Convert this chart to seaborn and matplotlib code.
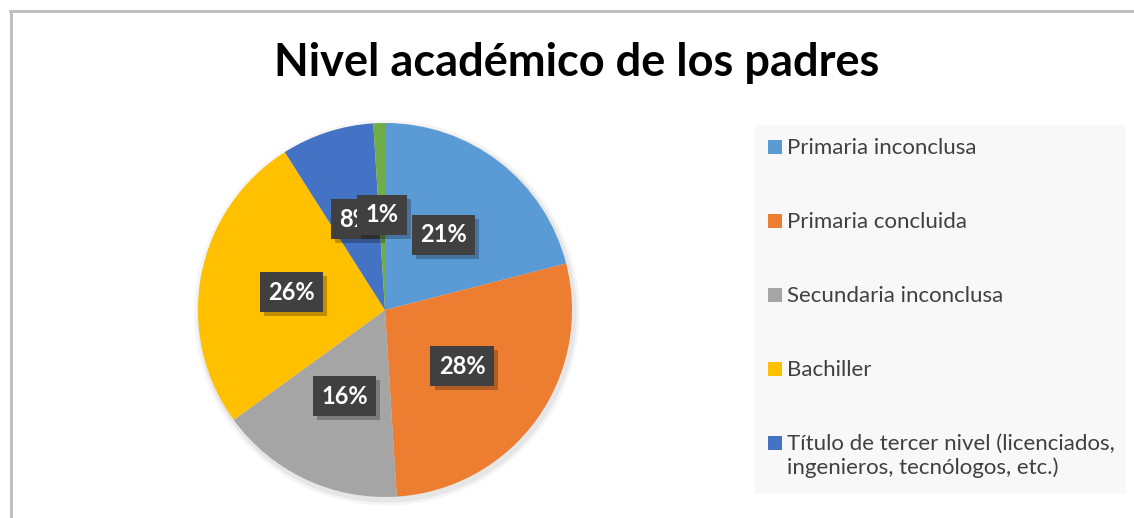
import matplotlib
matplotlib.use('Agg')
import matplotlib.pyplot as plt
import matplotlib.patheffects as pe
from matplotlib.patches import Rectangle, Circle
from matplotlib.lines import Line2D
import seaborn as sns

# data
categories = [
    "Primaria inconclusa",
    "Primaria concluida",
    "Secundaria inconclusa",
    "Bachiller",
    "Título de tercer nivel (licenciados,\ningenieros, tecnólogos, etc.)",
    "Otro",
]
shares = [21, 28, 16, 26, 8, 1]
legend_count = 5  # the last entry is cut off in the original
colors = ["#5B9BD5", "#ED7D31", "#A5A5A5", "#FFC000", "#4472C4", "#70AD47"]
title = "Nivel académico de los padres"

sns.set_theme(style="white")
plt.rcParams['font.family'] = ['Lato', 'DejaVu Sans']

W, H = 1134, 518
fig = plt.figure(figsize=(W / 100, H / 100), dpi=100)
fig.patch.set_facecolor("white")

def fx(px):
    return px / W

def fy(py):
    return 1 - py / H

# outer chart frame (only top and left edges are visible)
fig.lines.append(Line2D([fx(11), fx(11)], [fy(11), fy(530)], transform=fig.transFigure,
                        color="#BFBFBF", linewidth=2.2))
fig.lines.append(Line2D([fx(10), fx(1140)], [fy(11), fy(11)], transform=fig.transFigure,
                        color="#BFBFBF", linewidth=2.2))

# pie
cx, cy, r = 385, 310, 187
pad = 1.05
ax = fig.add_axes([fx(cx - r * pad), fy(cy + r * pad), 2 * r * pad / W, 2 * r * pad / H])
# soft shadow behind the pie
for k, a in [(1.03, 0.04), (1.015, 0.06)]:
    ax.add_patch(Circle((0.01, -0.015), k, facecolor="black", alpha=a,
                        edgecolor="none", zorder=0))
wedges, _, autotexts = ax.pie(
    shares, colors=colors, startangle=90, counterclock=False,
    autopct='%1.0f%%', pctdistance=0.51, radius=1,
    wedgeprops=dict(linewidth=0),
    textprops=dict(color="white", fontsize=17, fontweight="bold"),
)
for t in autotexts:
    t.set_bbox(dict(boxstyle="square,pad=0.36", facecolor="#404040", edgecolor="none"))
    t.get_bbox_patch().set_path_effects([
        pe.SimplePatchShadow(offset=(3, -3), shadow_rgbFace="black", alpha=0.25),
        pe.Normal()])
ax.set_xlim(-pad, pad)
ax.set_ylim(-pad, pad)
ax.set_aspect('equal')
ax.axis('off')

fig.text(fx(577), fy(63), title, ha="center", va="center",
         fontsize=32.5, fontweight="bold", color="black")

# legend
fig.patches.append(Rectangle((fx(755), fy(494)), fx(1126 - 755), (494 - 125) / H,
                             transform=fig.transFigure, facecolor="#F8F8F8",
                             edgecolor="none", zorder=0))
for i, (lab, col) in enumerate(zip(categories[:legend_count], colors[:legend_count])):
    yc = 147 + 74 * i
    fig.patches.append(Rectangle((fx(768), fy(yc + 7)), fx(14), 14 / H,
                                 transform=fig.transFigure, facecolor=col,
                                 edgecolor="none", zorder=2))
    fig.text(fx(787), fy(yc - 9), lab, ha="left", va="top", fontsize=16,
             color="#404040", linespacing=1.22)

fig.savefig("out.png", dpi=100)
